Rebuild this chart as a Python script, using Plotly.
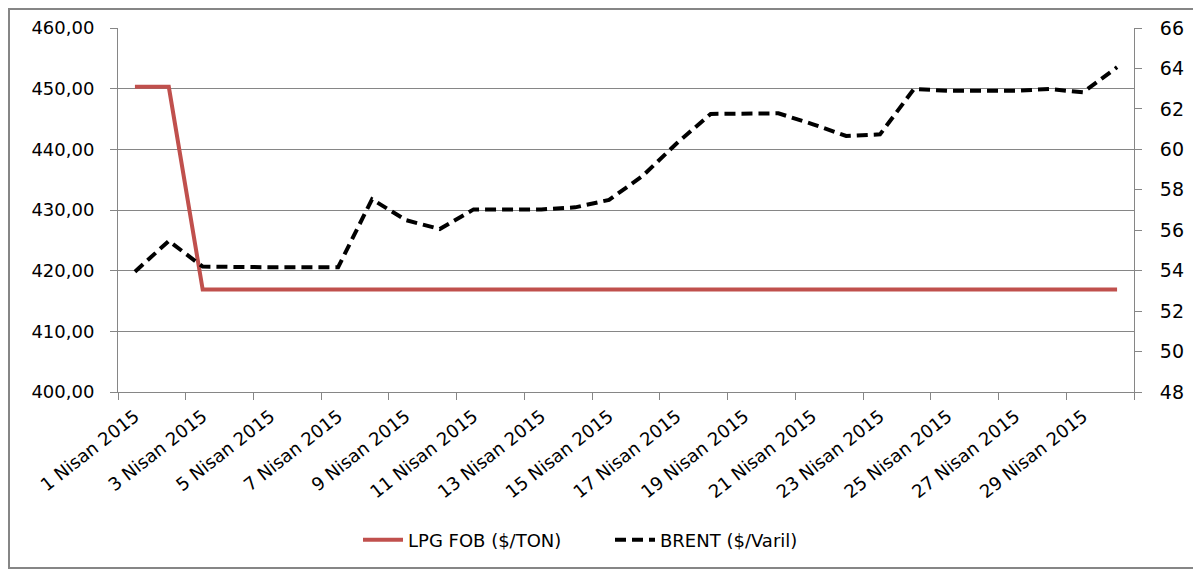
import plotly.graph_objects as go

days = [f"{d} Nisan 2015" for d in range(1, 31)]

lpg_fob = [450.3, 450.3] + [416.9] * 28

brent = [53.95, 55.47, 54.2, 54.17, 54.17, 54.17, 54.17, 57.53, 56.5, 56.06,
         57.03, 57.03, 57.03, 57.13, 57.5, 58.7, 60.3, 61.75, 61.78, 61.78,
         61.25, 60.66, 60.74, 62.98, 62.9, 62.9, 62.9, 62.98, 62.82, 64.06]

lpg_name = "LPG FOB ($/TON)"
brent_name = "BRENT ($/Varil)"

OFF = 8  # default page body margin
W, H = 1201 - OFF, 571 - OFF
L, R, T, B = 118 - OFF, 1134 - OFF, 28 - OFF, 392 - OFF
GRAY = "#868686"
FONT = "DejaVu Sans"
FS = 18

fig = go.Figure()
fig.add_trace(go.Scatter(x=days, y=lpg_fob, name=lpg_name, mode="lines",
                         line=dict(color="#C0504D", width=4), yaxis="y"))
fig.add_trace(go.Scatter(x=days, y=brent, name=brent_name, mode="lines",
                         line=dict(color="#000000", width=4, dash="11px,6px"),
                         yaxis="y2"))

def px_x(p):
    return (p - OFF - L) / (R - L)

def px_y(p):
    return (B - (p - OFF)) / (B - T)

fig.update_layout(
    width=W, height=H,
    margin=dict(l=L, r=W - R, t=T, b=H - B, autoexpand=False),
    paper_bgcolor="white", plot_bgcolor="white",
    separators=", ",
    font=dict(family=FONT, size=FS, color="#000000"),
    showlegend=True,
    legend=dict(orientation="h", x=px_x(358), xanchor="left",
                y=px_y(540), yanchor="middle",
                font=dict(family=FONT, size=FS, color="#000000"),
                itemwidth=40, entrywidth=197, entrywidthmode="pixels",
                tracegroupgap=0),
    xaxis=dict(type="category", tickmode="linear", dtick=2, tick0=0,
               tickson="boundaries", ticks="outside", ticklen=7,
               tickcolor=GRAY, tickangle=-38, showgrid=False,
               showline=True, linecolor=GRAY, linewidth=1,
               range=[-0.5, len(days) - 0.5], zeroline=False,
               ticklabelstandoff=6,
               tickfont=dict(family=FONT, size=FS, color="#000000")),
    yaxis=dict(range=[400, 460], dtick=10, tick0=400, tickformat=".2f",
               showgrid=True, gridcolor=GRAY, gridwidth=1,
               showline=True, linecolor=GRAY, linewidth=1,
               ticks="outside", ticklen=7, tickcolor=GRAY, zeroline=False,
               ticklabelstandoff=12,
               tickfont=dict(family=FONT, size=FS, color="#000000")),
    yaxis2=dict(range=[48, 66], dtick=2, tick0=48, overlaying="y",
                side="right", showgrid=False,
                showline=True, linecolor=GRAY, linewidth=1,
                ticks="outside", ticklen=7, tickcolor=GRAY, zeroline=False,
                ticklabelstandoff=14,
                tickfont=dict(family=FONT, size=FS + 1, color="#000000")),
)

fig.add_shape(type="rect", xref="paper", yref="paper",
              x0=px_x(OFF + 1), x1=px_x(1199), y0=px_y(568), y1=px_y(OFF + 1),
              line=dict(color=GRAY, width=2), fillcolor="rgba(0,0,0,0)",
              layer="below")

fig.write_html("out.html")
